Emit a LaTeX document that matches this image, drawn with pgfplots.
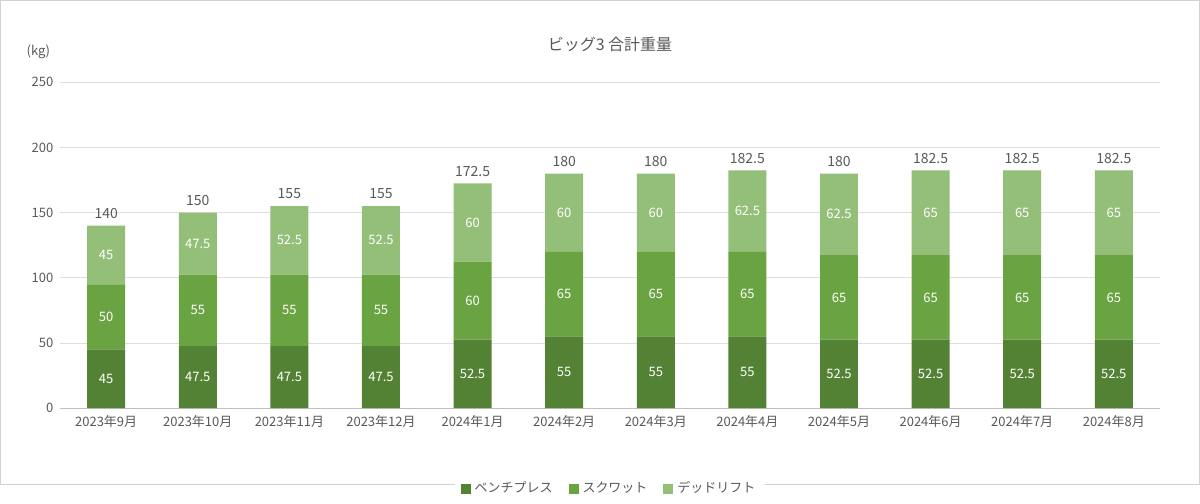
\documentclass[border=0pt]{standalone}
\usepackage{pgfplots}
\pgfplotsset{compat=1.18}
\usepackage{fontspec}
\setmainfont{Noto Sans CJK JP}
\definecolor{cb}{HTML}{548235}
\definecolor{cs}{HTML}{6AA341}
\definecolor{cd}{HTML}{93BF78}
\definecolor{tx}{HTML}{595959}
\pgfplotsset{common/.style={at={(30pt,38pt)},anchor=south west,scale only axis,width=550pt,height=163pt,
 xmin=-0.5,xmax=11.5,ymin=0,ymax=250,
 /pgf/number format/assume math mode=true}}
\begin{document}
\begin{tikzpicture}
\draw[gray!35,fill=white] (0,0) rectangle (600pt,242pt);
\begin{axis}[common, ybar stacked, bar width=19pt,
 axis line style={draw=none}, axis x line*=bottom, x axis line style={draw=gray!50},
 ytick={0,50,...,250}, ymajorgrids, grid style={gray!25},
 major tick length=0pt,
 tick label style={font=\fontsize{6.5}{7}\selectfont,text=tx},
 xtick={0,...,11},
 xticklabels={2023年9月,2023年10月,2023年11月,2023年12月,2024年1月,2024年2月,2024年3月,2024年4月,2024年5月,2024年6月,2024年7月,2024年8月},
 legend style={at={(0.5,-0.2)},anchor=north,draw=none,legend columns=3,font=\fontsize{6.5}{7}\selectfont\color{tx},
  /tikz/every even column/.append style={column sep=6pt}},
 legend image code/.code={\fill[#1] (0,-2.5pt) rectangle (5pt,2.5pt);},
 title={ビッグ3 合計重量}, title style={font=\fontsize{8}{9}\selectfont,text=tx,yshift=6pt},
 clip=false]
\addplot[fill=cb,draw=none] coordinates {(0,45)(1,47.5)(2,47.5)(3,47.5)(4,52.5)(5,55)(6,55)(7,55)(8,52.5)(9,52.5)(10,52.5)(11,52.5)};
\addplot[fill=cs,draw=none] coordinates {(0,50)(1,55)(2,55)(3,55)(4,60)(5,65)(6,65)(7,65)(8,65)(9,65)(10,65)(11,65)};
\addplot[fill=cd,draw=none] coordinates {(0,45)(1,47.5)(2,52.5)(3,52.5)(4,60)(5,60)(6,60)(7,62.5)(8,62.5)(9,65)(10,65)(11,65)};
\legend{ベンチプレス,スクワット,デッドリフト}
\node[font=\fontsize{6.5}{7}\selectfont,text=tx,anchor=south] at (rel axis cs:-0.02,1.05) {(kg)};
\end{axis}
\begin{axis}[common, hide axis, clip=false,
 every node near coord/.append style={font=\fontsize{6.5}{7}\selectfont,text=white,anchor=center},
 point meta=explicit symbolic, nodes near coords]
\addplot[only marks,mark=none] coordinates {(0,22.5)[45](1,23.75)[47.5](2,23.75)[47.5](3,23.75)[47.5](4,26.25)[52.5](5,27.5)[55](6,27.5)[55](7,27.5)[55](8,26.25)[52.5](9,26.25)[52.5](10,26.25)[52.5](11,26.25)[52.5]};
\addplot[only marks,mark=none] coordinates {(0,70)[50](1,75)[55](2,75)[55](3,75)[55](4,82.5)[60](5,87.5)[65](6,87.5)[65](7,87.5)[65](8,85)[65](9,85)[65](10,85)[65](11,85)[65]};
\addplot[only marks,mark=none] coordinates {(0,117.5)[45](1,126.25)[47.5](2,128.75)[52.5](3,128.75)[52.5](4,142.5)[60](5,150)[60](6,150)[60](7,151.25)[62.5](8,148.75)[62.5](9,150)[65](10,150)[65](11,150)[65]};
\addplot[only marks,mark=none,every node near coord/.append style={text=tx,anchor=south,font=\fontsize{7}{8}\selectfont}] coordinates {(0,140)[140](1,150)[150](2,155)[155](3,155)[155](4,172.5)[172.5](5,180)[180](6,180)[180](7,182.5)[182.5](8,180)[180](9,182.5)[182.5](10,182.5)[182.5](11,182.5)[182.5]};
\end{axis}
\end{tikzpicture}
\end{document}
